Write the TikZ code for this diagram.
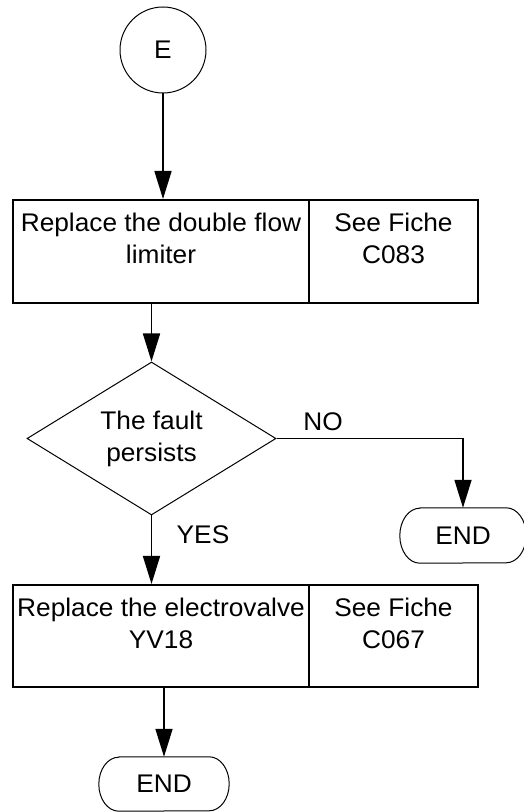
\documentclass[tikz,border=0pt]{standalone}
\usepackage{fontspec}
\setmainfont{Liberation Sans}[FakeStretch=1.03]
\usetikzlibrary{arrows.meta,shapes.geometric}
\begin{document}
\begin{tikzpicture}[x=1pt,y=1pt,
  txt/.style={font=\fontsize{25.5}{32}\selectfont},
  cell/.style={draw,line width=2pt,inner sep=0pt},
  celltext/.style={txt,align=center,anchor=north,inner sep=0pt},
  thin/.style={draw,line width=1pt},
  conn/.style={line width=1.6pt,-{Triangle[length=28pt,width=17pt]}},
  termbox/.style={inner sep=0pt,txt}
]
\useasboundingbox (0,0) rectangle (523,812);
% start
\node[circle,thin,minimum size=86pt,inner sep=0pt,txt] (E) at (163,762) {E};
% box 1
\node[cell,minimum width=296pt,minimum height=103pt] (b1l) at (161,560.5) {};
\node[cell,minimum width=169pt,minimum height=103pt] (b1r) at (393.5,560.5) {};
\node[celltext] (t1l) at ([yshift=-14pt]b1l.north) {Replace the double flow\\limiter};
\node[celltext] (t1r) at ([yshift=-14pt]b1r.north) {See Fiche\\C083};
% decision
\node[diamond,thin,minimum width=249pt,minimum height=153pt,inner sep=0pt] (dia) at (151.5,373.5) {};
\node[txt,align=center,inner sep=0pt] (tdia) at (dia.center) {The fault\\persists};
% end right
\node[termbox,minimum width=126pt,minimum height=55pt] (endr) at (463,276.5) {END};
\draw[line width=1pt] ([xshift=20pt]endr.north west) -- ([xshift=-20pt]endr.north east)
  arc[start angle=90,end angle=-90,x radius=20pt,y radius=27.5pt]
  -- ([xshift=20pt]endr.south west)
  arc[start angle=270,end angle=90,x radius=20pt,y radius=27.5pt] -- cycle;
% box 2
\node[cell,minimum width=296pt,minimum height=102pt] (b2l) at (161,176) {};
\node[cell,minimum width=169pt,minimum height=102pt] (b2r) at (393.5,176) {};
\node[celltext] (t2l) at ([yshift=-14pt]b2l.north) {Replace the electrovalve\\YV18};
\node[celltext] (t2r) at ([yshift=-14pt]b2r.north) {See Fiche\\C067};
% end bottom
\node[termbox,minimum width=130pt,minimum height=54pt] (endb) at (164,28) {END};
\draw[line width=1pt] ([xshift=20pt]endb.north west) -- ([xshift=-20pt]endb.north east)
  arc[start angle=90,end angle=-90,x radius=20pt,y radius=27pt]
  -- ([xshift=20pt]endb.south west)
  arc[start angle=270,end angle=90,x radius=20pt,y radius=27pt] -- cycle;
% labels
\node[txt,inner sep=0pt] (no) at (323,390) {NO};
\node[txt,inner sep=0pt] (yes) at (203,277) {YES};
% connectors
\draw[conn] (E.south) -- (E.south |- b1l.north);
\draw[conn] (dia.north |- b1l.south) -- (dia.north);
\draw[conn] (dia.east) -| (endr.north);
\draw[conn] (dia.south) -- (dia.south |- b2l.north);
\draw[conn] (endb.north |- b2l.south) -- (endb.north);
\end{tikzpicture}
\end{document}
